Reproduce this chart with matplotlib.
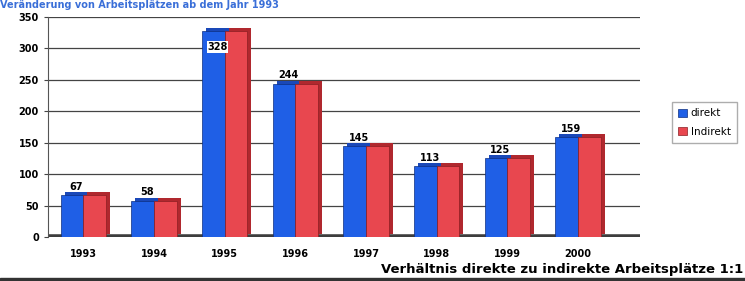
import numpy as np
import matplotlib
matplotlib.use('Agg')
import matplotlib.pyplot as plt
import matplotlib.transforms as mtransforms

# Data
years = ['1993', '1994', '1995', '1996', '1997', '1998', '1999', '2000']
direkt = [67, 58, 328, 244, 145, 113, 125, 159]
indirekt = [67, 58, 328, 244, 145, 113, 125, 159]

blue = '#1f5fe6'
red = '#e8474f'
blue_dark = '#1a48b8'
red_dark = '#b0282e'

fig = plt.figure(figsize=(7.45, 2.81), dpi=100)
fig.patch.set_facecolor('white')
ax = fig.add_axes([0.0644, 0.1566, 0.795, 0.7834])

x = np.arange(len(years))
w = 0.32

# depth faces (shifted copies behind the bars)
depth = mtransforms.offset_copy(ax.transData, fig=fig, x=4, y=3, units='dots')
ax.bar(x - w / 2, direkt, w, color=blue_dark, transform=depth, zorder=2)
ax.bar(x + w / 2, indirekt, w, color=red_dark, transform=depth, zorder=2)

ax.bar(x - w / 2, direkt, w, color=blue, edgecolor='#0d2f80', linewidth=0.5,
       label='direkt', zorder=3)
ax.bar(x + w / 2, indirekt, w, color=red, edgecolor='#8a1e22', linewidth=0.5,
       label='Indirekt', zorder=3)

# value labels
for xi, v in zip(x, direkt):
    if v > 300:
        ax.text(xi - 0.1, v - 26, str(v), ha='center', va='center', fontsize=7,
                fontweight='bold', zorder=5,
                bbox=dict(facecolor='white', edgecolor='none', pad=0.5))
    else:
        ax.text(xi - 0.1, v + 13, str(v), ha='center', va='center', fontsize=7,
                fontweight='bold', zorder=5)

ax.set_xlim(-0.5, 7.88)
ax.set_ylim(0, 350)
ax.set_yticks(range(0, 351, 50))
ax.set_xticks(x)
ax.set_xticklabels(years)
ax.tick_params(axis='both', labelsize=7, length=3, width=0.8, color='#444')
ax.tick_params(axis='x', length=0, pad=9)
for lab in ax.get_xticklabels() + ax.get_yticklabels():
    lab.set_fontweight('bold')

ax.grid(axis='y', color='#444444', linewidth=0.9, zorder=0)
ax.set_axisbelow(True)
for side in ['top', 'right', 'bottom']:
    ax.spines[side].set_visible(False)
ax.spines['left'].set_color('#555555')

# floor
ax.axhline(0, color='#3e3e3e', linewidth=4, zorder=1)

ax.legend(loc='center left', bbox_to_anchor=(1.045, 0.52), fontsize=7.5,
          frameon=True, fancybox=False, edgecolor='#999999',
          handlelength=0.8, handleheight=0.8, handletextpad=0.4,
          borderpad=0.6, labelspacing=0.8)

# title at the top (cut by the scan in the original)
fig.text(0.0, 1.0, 'Veränderung von Arbeitsplätzen ab dem Jahr 1993',
         color='#3a6fd8', fontsize=7, fontweight='bold', ha='left', va='top')

fig.text(0.998, 0.04, 'Verhältnis direkte zu indirekte Arbeitsplätze 1:1',
         fontsize=9.5, fontweight='bold', ha='right', va='center')

# dark scan edge at the bottom
fig.add_artist(plt.Rectangle((0, 0), 1, 0.012, transform=fig.transFigure,
                             color='#333333'))

plt.savefig('out.png', dpi=100)
